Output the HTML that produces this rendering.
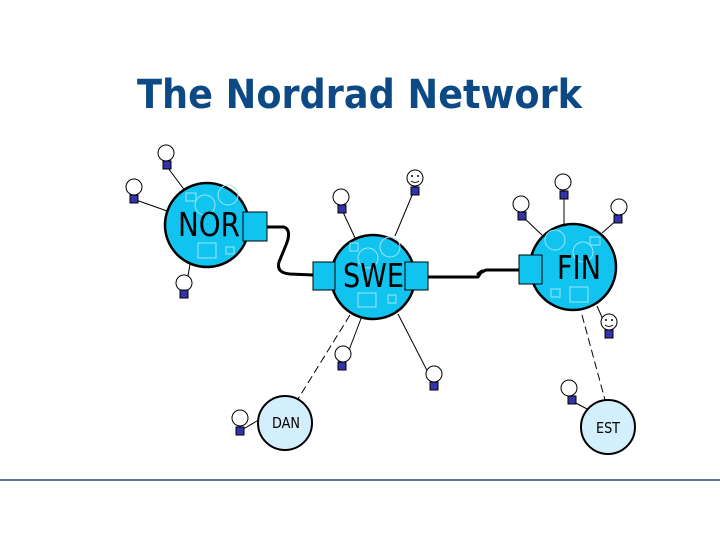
<!DOCTYPE html>
<html><head><meta charset="utf-8"><style>
html,body{margin:0;padding:0;background:#fff;}
svg{display:block;}
</style></head><body>
<svg width="720" height="540" viewBox="0 0 720 540" xmlns="http://www.w3.org/2000/svg" font-family="'DejaVu Sans','Liberation Sans',sans-serif">
<text x="137" y="108" font-size="40" font-weight="bold" fill="#0d4a85" textLength="445" lengthAdjust="spacingAndGlyphs">The Nordrad Network</text>
<line x1="0" y1="480" x2="720" y2="480" stroke="#1f4e79" stroke-width="1.5"/>

<g stroke="#000" stroke-width="1" stroke-dasharray="8,4" fill="none">
<line x1="350" y1="315" x2="298" y2="399"/>
<line x1="582" y1="315" x2="605" y2="400"/>
</g>
<g stroke="#000" stroke-width="1" fill="none">
<line x1="168" y1="168" x2="186" y2="192"/>
<line x1="136" y1="200" x2="170" y2="212"/>
<line x1="185" y1="294" x2="190" y2="264"/>
<line x1="343" y1="212" x2="356" y2="240"/>
<line x1="413" y1="193" x2="395" y2="236"/>
<line x1="343" y1="366" x2="362" y2="316"/>
<line x1="434" y1="384" x2="398" y2="314"/>
<line x1="240" y1="431" x2="262" y2="418"/>
<line x1="523" y1="217" x2="542" y2="235"/>
<line x1="564" y1="196" x2="564" y2="224"/>
<line x1="618" y1="219" x2="602" y2="233"/>
<line x1="609" y1="333" x2="597" y2="306"/>
<line x1="572" y1="401" x2="589" y2="410"/>
</g>
<g stroke="#000" stroke-width="3" fill="none" stroke-linejoin="round">
<path d="M267,227 L284,227 Q292,230 286,245 L279,262 Q276,273 290,274 L313,275"/>
<path d="M428,277 L478,277 L482,271 L478,274 L486,270 L519,270"/>
</g>

<g stroke="#000" stroke-width="2.5" fill="#11c4f0">
<circle cx="207" cy="225" r="42"/>
<circle cx="373" cy="277" r="42"/>
<circle cx="573" cy="267" r="43"/>
</g>
<g stroke="#9be6f8" stroke-width="1" fill="none">
<circle cx="228" cy="195" r="10"/><circle cx="205" cy="205" r="10"/><rect x="186" y="193" width="10" height="8"/><rect x="198" y="243" width="18" height="15"/><rect x="226" y="247" width="8" height="7"/>
<circle cx="390" cy="247" r="10"/><circle cx="368" cy="258" r="10"/><rect x="350" y="243" width="8" height="8"/><rect x="358" y="293" width="18" height="14"/><rect x="388" y="295" width="8" height="8"/>
<circle cx="555" cy="240" r="10"/><circle cx="583" cy="252" r="10"/><rect x="590" y="237" width="10" height="8"/><rect x="570" y="287" width="18" height="15"/><rect x="551" y="289" width="9" height="8"/>
</g>
<g font-size="33" fill="#000" font-family="'DejaVu Sans','Liberation Sans',sans-serif" lengthAdjust="spacingAndGlyphs">
<text x="178" y="236" textLength="62" lengthAdjust="spacingAndGlyphs">NOR</text>
<text x="343" y="287" textLength="61" lengthAdjust="spacingAndGlyphs">SWE</text>
<text x="557" y="279" textLength="44" lengthAdjust="spacingAndGlyphs">FIN</text>
</g>
<g stroke="#000" stroke-width="1" fill="#11c4f0">
<rect x="243" y="212" width="24" height="29"/>
<rect x="313" y="262" width="22" height="28"/>
<rect x="405" y="262" width="23" height="28"/>
<rect x="519" y="255" width="23" height="29"/>
</g>
<g stroke="#000" stroke-width="2" fill="#d4effc">
<circle cx="285" cy="423" r="27"/>
<circle cx="608" cy="427" r="27"/>
</g>
<text x="272" y="428" font-size="15" textLength="28" lengthAdjust="spacingAndGlyphs">DAN</text>
<text x="596" y="433" font-size="15" textLength="24" lengthAdjust="spacingAndGlyphs">EST</text>

<g stroke="#000" stroke-width="1">
<g fill="#fff">
<circle cx="166" cy="153" r="8"/><circle cx="134" cy="187" r="8"/><circle cx="184" cy="283" r="8"/>
<circle cx="341" cy="197" r="8"/><circle cx="343" cy="354" r="8"/><circle cx="434" cy="374" r="8"/>
<circle cx="240" cy="418" r="8"/>
<circle cx="521" cy="204" r="8"/><circle cx="563" cy="182" r="8"/><circle cx="619" cy="207" r="8"/>
<circle cx="569" cy="388" r="8"/>
<circle cx="415" cy="178" r="8"/><circle cx="609" cy="322" r="8"/>
</g>
<g fill="#3333aa">
<rect x="163" y="161" width="8" height="8"/><rect x="130" y="195" width="8" height="8"/><rect x="180" y="290" width="8" height="8"/>
<rect x="338" y="205" width="8" height="8"/><rect x="338" y="362" width="8" height="8"/><rect x="430" y="382" width="8" height="8"/>
<rect x="236" y="427" width="8" height="8"/>
<rect x="518" y="212" width="8" height="8"/><rect x="560" y="191" width="8" height="8"/><rect x="614" y="215" width="8" height="8"/>
<rect x="568" y="396" width="8" height="8"/>
<rect x="411" y="187" width="8" height="8"/><rect x="605" y="330" width="8" height="8"/>
</g>
</g>
<g fill="#000">
<circle cx="412" cy="176" r="1"/><circle cx="418" cy="176" r="1"/>
<circle cx="606" cy="320" r="1"/><circle cx="612" cy="320" r="1"/>
</g>
<g stroke="#000" fill="none" stroke-width="0.8">
<path d="M411,181 Q415,184 419,181"/>
<path d="M605,325 Q609,328 613,325"/>
</g>
</svg>
</body></html>
